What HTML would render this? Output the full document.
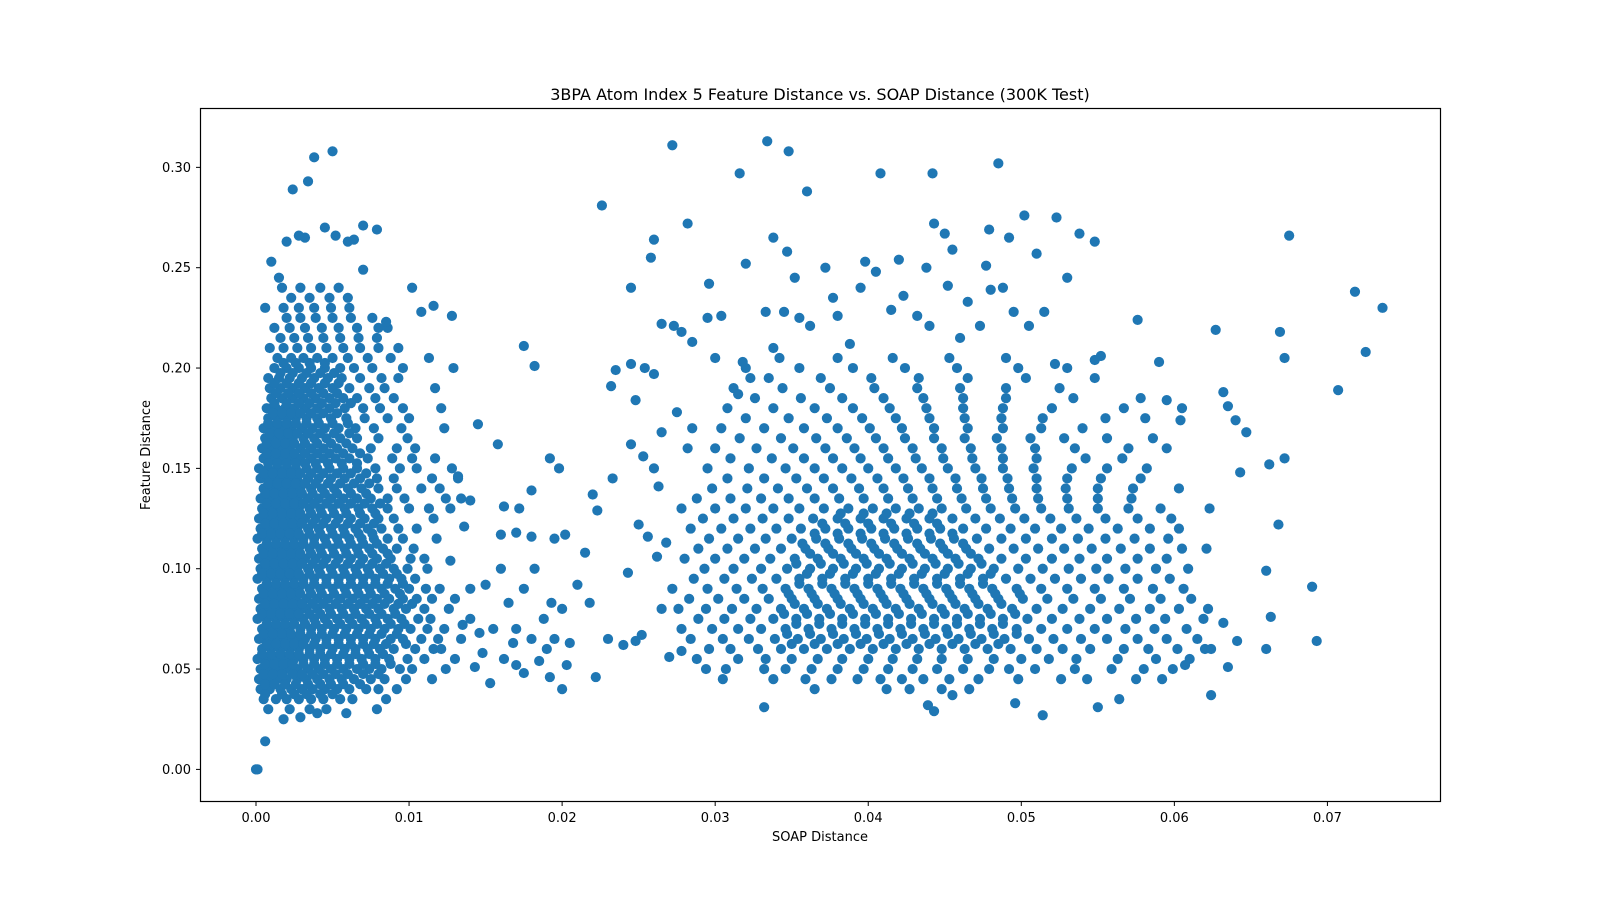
<!DOCTYPE html>
<html><head><meta charset="utf-8"><style>
body{margin:0;background:#fff}
svg{display:block;font-family:"DejaVu Sans","Liberation Sans",sans-serif}
</style></head><body>
<svg id="chart" width="1600" height="900" viewBox="0 0 1600 900">
<rect width="1600" height="900" fill="#fff"/>
<text x="820" y="100" text-anchor="middle" font-size="16">3BPA Atom Index 5 Feature Distance vs. SOAP Distance (300K Test)</text>
<g id="marks"></g>
<g id="axes"></g>
<rect x="200.5" y="108.5" width="1240" height="693" fill="none" stroke="#000" stroke-width="1.2"/>
<text x="820" y="841" text-anchor="middle" font-size="13">SOAP Distance</text>
<text transform="translate(150,455) rotate(-90)" text-anchor="middle" font-size="13">Feature Distance</text>
</svg>
<script>
// SOAP distance values are given in units of 1e-3
const xTicks = [0, 0.01, 0.02, 0.03, 0.04, 0.05, 0.06, 0.07];
const xTickLabels = ["0.00","0.01","0.02","0.03","0.04","0.05","0.06","0.07"];
const yTicks = [0, 0.05, 0.10, 0.15, 0.20, 0.25, 0.30];
const yTickLabels = ["0.00","0.05","0.10","0.15","0.20","0.25","0.30"];
const leftRows = [
[.030,[0.8,2.2,3.5,4.6,7.9]],
[.035,[0.5,1.3,2.0,2.8,3.6,4.4,5.5,6.3,8.5]],
[.040,[0.3,0.9,1.6,2.3,3.0,3.7,4.5,5.3,6.1,7.2,8.0,9.2]],
[.045,[0.2,0.8,1.4,2.0,2.7,3.3,4.0,4.8,5.6,6.4,7.5,8.4,9.8,11.5]],
[.050,[0.3,0.9,1.5,2.1,2.7,3.4,4.1,4.9,5.7,6.6,7.4,8.2,9.4,10.2,12.4]],
[.055,[0.1,0.7,1.3,1.9,2.5,3.1,3.8,4.5,5.3,6.1,6.9,7.8,8.7,9.9,11.0,13.0]],
[.060,[0.4,1.0,1.6,2.2,2.8,3.5,4.2,5.0,5.8,6.5,7.3,8.1,9.0,10.4,11.6,12.1]],
[.065,[0.2,0.8,1.4,2.0,2.6,3.2,3.9,4.6,5.4,6.2,7.0,7.8,8.8,9.6,10.8,11.9,13.4]],
[.070,[0.4,1.0,1.6,2.2,2.9,3.6,4.3,5.1,5.9,6.7,7.5,8.4,9.3,10.1,11.2,12.3]],
[.075,[0.1,0.7,1.3,1.9,2.5,3.1,3.8,4.5,5.3,6.1,6.9,7.8,8.6,9.5,10.6,11.4]],
[.080,[0.3,0.9,1.5,2.1,2.7,3.3,4.0,4.8,5.6,6.4,7.2,8.0,9.0,9.8,11.0,12.6]],
[.085,[0.2,0.8,1.4,2.0,2.6,3.3,4.0,4.7,5.5,6.3,7.1,7.9,8.7,9.6,10.5,11.5]],
[.090,[0.4,1.0,1.6,2.2,2.8,3.5,4.2,5.0,5.8,6.6,7.4,8.2,9.1,10.0,11.1,12.0]],
[.095,[0.1,0.7,1.3,1.9,2.5,3.1,3.8,4.6,5.4,6.2,7.0,7.8,8.7,9.5,10.4]],
[.100,[0.3,0.9,1.5,2.1,2.7,3.4,4.1,4.9,5.7,6.5,7.3,8.1,9.0,9.9,11.2]],
[.105,[0.2,0.8,1.4,2.0,2.6,3.2,3.9,4.6,5.4,6.2,7.0,7.9,8.8,10.1,11.0]],
[.110,[0.4,1.0,1.6,2.2,2.8,3.5,4.2,5.0,5.8,6.6,7.4,8.3,9.2,10.3]],
[.115,[0.1,0.7,1.3,1.9,2.5,3.1,3.8,4.5,5.3,6.1,6.9,7.7,8.6,9.6,11.8]],
[.120,[0.3,0.9,1.5,2.1,2.7,3.4,4.1,4.9,5.7,6.5,7.3,8.2,9.3,10.5]],
[.125,[0.2,0.8,1.4,2.0,2.6,3.2,3.9,4.6,5.4,6.2,7.1,8.0,9.0,11.6]],
[.130,[0.4,1.0,1.6,2.2,2.8,3.5,4.2,5.0,5.8,6.7,7.6,8.6,10.0,11.3,12.7]],
[.135,[0.3,0.9,1.5,2.1,2.7,3.4,4.1,4.9,5.7,6.6,7.5,8.6,9.7,12.4,13.4]],
[.140,[0.5,1.1,1.7,2.3,2.9,3.6,4.3,5.1,6.0,6.9,8.0,9.2,10.8,12.0]],
[.145,[0.3,0.9,1.5,2.1,2.7,3.4,4.1,4.9,5.8,6.8,7.9,9.0,11.5,13.2]],
[.150,[0.2,0.8,1.4,2.0,2.6,3.3,4.0,4.8,5.7,6.6,7.8,9.4,10.5,12.8]],
[.155,[0.5,1.1,1.7,2.3,2.9,3.6,4.4,5.2,6.1,7.3,8.9,10.2,11.7]],
[.160,[0.4,1.0,1.6,2.2,2.9,3.6,4.4,5.3,6.3,7.5,9.2,10.4]],
[.165,[0.6,1.2,1.8,2.4,3.1,3.8,4.6,5.5,6.6,8.0,9.9]],
[.170,[0.5,1.1,1.7,2.3,3.0,3.7,4.5,5.4,6.5,7.7,9.5,12.3]],
[.175,[0.8,1.4,2.0,2.6,3.3,4.0,4.9,5.9,7.1,8.6,10.0]],
[.180,[0.7,1.3,1.9,2.5,3.2,4.0,4.8,5.8,7.0,8.1,9.6,12.1]],
[.185,[1.0,1.7,2.4,3.1,3.9,4.8,5.7,6.6,7.8,9.0]],
[.190,[0.9,1.6,2.4,3.2,4.1,5.0,6.1,7.4,8.4,11.7]],
[.195,[0.8,1.5,2.2,3.0,3.8,4.7,5.6,6.8,8.2,9.3]],
[.200,[1.2,2.0,2.8,3.6,4.5,5.5,6.4,7.6,9.6,12.9]],
[.205,[1.4,2.3,3.1,4.0,5.0,6.0,7.3,8.8,11.3]],
[.210,[0.9,1.8,2.7,3.6,4.6,5.7,6.8,8.0,9.3]],
[.215,[1.6,2.5,3.4,4.4,5.5,6.7,7.9]],
[.220,[1.2,2.2,3.2,4.3,5.4,6.6,8.0,8.6]],
[.225,[2.0,2.9,3.9,5.0,6.2,7.6]],
[.230,[0.6,1.8,2.8,3.8,4.9,6.1]],
[.235,[2.3,3.5,4.8,6.0]],
[.240,[1.7,2.9,4.2,5.4]]
];
const leftFill = [
[.0375,[0.6,1.7,2.5,3.3,4.2,5.0]],
[.0425,[0.6,1.2,1.9,2.6,3.4,4.2,4.9,5.7,6.8]],
[.0475,[0.5,1.1,1.7,2.4,3.0,3.7,4.4,5.2,6.0,7.0,8.0]],
[.0525,[0.6,1.2,1.8,2.4,3.1,3.8,4.5,5.3,6.1,7.0,7.8,8.8]],
[.0575,[0.4,1.0,1.6,2.2,2.8,3.5,4.2,4.9,5.7,6.5,7.4,8.3]],
[.0625,[0.7,1.3,1.9,2.5,3.1,3.8,4.6,5.4,6.2,7.0,7.7,8.5,9.8]],
[.0675,[0.5,1.1,1.7,2.3,2.9,3.6,4.3,5.0,5.8,6.6,7.4,8.2,9.2]],
[.0725,[0.7,1.3,1.9,2.5,3.2,3.9,4.7,5.5,6.3,7.1,7.9,8.8,9.7]],
[.0775,[0.4,1.0,1.6,2.2,2.8,3.5,4.2,4.9,5.7,6.5,7.4,8.2,9.1]],
[.0825,[0.6,1.2,1.8,2.4,3.0,3.7,4.4,5.2,6.0,6.8,7.6,8.4,9.3,10.2]],
[.0875,[0.5,1.1,1.7,2.3,2.9,3.6,4.3,5.1,5.9,6.7,7.5,8.4,9.4]],
[.0925,[0.7,1.3,1.9,2.5,3.1,3.8,4.6,5.4,6.2,7.0,7.8,8.6,9.6]],
[.0975,[0.4,1.0,1.6,2.2,2.8,3.5,4.2,5.0,5.8,6.6,7.4,8.3,9.2]],
[.1025,[0.6,1.2,1.8,2.4,3.0,3.7,4.4,5.2,6.0,6.8,7.6,8.5]],
[.1075,[0.5,1.1,1.7,2.3,2.9,3.6,4.3,5.1,5.9,6.7,7.6,8.6]],
[.1125,[0.7,1.3,1.9,2.5,3.1,3.8,4.6,5.4,6.2,7.0,7.9]],
[.1175,[0.4,1.0,1.6,2.2,2.8,3.5,4.2,5.0,5.8,6.7,7.6]],
[.1225,[0.6,1.2,1.8,2.4,3.0,3.7,4.4,5.2,6.0,6.8,7.7]],
[.1275,[0.5,1.1,1.7,2.3,2.9,3.6,4.3,5.1,5.9,6.8,7.8]],
[.1325,[0.7,1.3,1.9,2.5,3.1,3.8,4.6,5.4,6.2,7.1,8.1]],
[.1375,[0.6,1.2,1.8,2.4,3.0,3.7,4.5,5.3,6.2,7.2]],
[.1425,[0.8,1.4,2.0,2.6,3.2,3.9,4.7,5.5,6.4,7.4]],
[.1475,[0.5,1.1,1.7,2.3,2.9,3.6,4.4,5.3,6.2,7.2]],
[.1525,[0.8,1.4,2.0,2.6,3.2,3.9,4.7,5.6,6.6]],
[.1575,[0.7,1.3,1.9,2.5,3.2,4.0,4.8,5.7,6.8]],
[.1625,[0.7,1.3,1.9,2.5,3.2,4.0,4.9,5.9]],
[.1675,[0.9,1.5,2.1,2.7,3.4,4.2,5.1,6.1]],
[.1725,[0.8,1.4,2.0,2.6,3.3,4.1,5.0,6.0]],
[.1775,[1.1,1.7,2.3,2.9,3.6,4.4,5.3]],
[.1825,[1.2,2.0,2.8,3.5,4.3,5.2,6.2]],
[.1875,[1.3,2.1,2.8,3.6,4.4,5.3]],
[.1925,[1.2,2.0,2.8,3.6,4.5,5.4]],
[.1975,[1.6,2.4,3.3,4.2,5.1]],
[.2025,[1.8,2.6,3.5,4.5]]
];
const rightRows = [
[.040,[36.5,41.2,42.7,44.8,46.6]],
[.045,[30.5,33.8,35.9,37.6,39.3,40.8,42.2,43.6,45.3,47.2,49.8,52.6,54.3,57.5,59.2]],
[.050,[29.4,30.7,33.2,34.6,36.3,38.0,39.7,41.3,42.9,44.5,46.2,47.9,49.2,50.9,53.5,55.9,58.0,59.9]],
[.055,[28.8,31.5,33.3,35.0,36.7,38.3,40.0,41.6,43.2,44.8,46.5,48.2,50.0,51.8,53.6,56.3,58.8,61.0]],
[.060,[29.6,31.0,32.8,34.3,35.8,37.3,38.8,40.3,41.8,43.3,44.8,46.3,47.8,49.3,51.0,52.7,54.5,56.7,58.3,60.2,62.0]],
[.065,[28.4,30.5,32.2,33.9,35.4,36.9,38.4,39.9,41.4,42.9,44.4,45.9,47.4,48.9,50.5,52.1,53.9,55.6,57.6,59.5,61.5]],
[.070,[27.8,29.8,31.5,33.0,34.6,36.1,37.6,39.1,40.6,42.1,43.6,45.1,46.6,48.1,49.7,51.3,53.0,54.8,56.8,58.7,60.8]],
[.075,[28.9,30.6,32.3,33.8,35.3,36.8,38.3,39.8,41.3,42.8,44.3,45.8,47.3,48.8,50.4,52.0,53.8,55.6,57.5,59.4,61.9]],
[.080,[27.6,29.4,31.1,32.7,34.3,35.8,37.3,38.8,40.3,41.8,43.3,44.8,46.3,47.8,49.4,51.0,52.7,54.5,56.4,58.4,60.3,62.2]],
[.085,[28.3,30.2,31.9,33.5,35.0,36.5,38.0,39.5,41.0,42.5,44.0,45.5,47.0,48.5,50.1,51.7,53.4,55.2,57.1,59.1,61.1]],
[.090,[27.2,29.5,31.4,33.1,34.6,36.1,37.6,39.1,40.6,42.1,43.6,45.1,46.6,48.1,49.7,51.3,53.0,54.8,56.7,58.6,60.6]],
[.095,[28.6,30.6,32.4,34.0,35.5,37.0,38.5,40.0,41.5,43.0,44.5,46.0,47.5,49.0,50.6,52.2,53.9,55.7,57.6,59.7]],
[.100,[29.3,31.2,33.0,34.7,36.2,37.7,39.2,40.7,42.2,43.7,45.2,46.7,48.2,49.8,51.4,53.1,54.9,56.8,58.8,60.9]],
[.105,[28.0,30.0,31.9,33.6,35.2,36.7,38.2,39.7,41.2,42.7,44.2,45.7,47.2,48.7,50.3,52.0,53.8,55.6,57.6,59.5]],
[.110,[28.9,30.8,32.6,34.3,35.9,37.4,38.9,40.4,41.9,43.4,44.9,46.4,47.9,49.5,51.1,52.8,54.6,56.5,58.4,60.5,62.1]],
[.115,[29.6,31.5,33.3,35.0,36.6,38.1,39.6,41.1,42.6,44.1,45.6,47.1,48.7,50.3,52.0,53.7,55.5,57.4,59.6]],
[.120,[28.4,30.4,32.3,34.0,35.6,37.2,38.7,40.2,41.7,43.2,44.7,46.2,47.7,49.3,50.9,52.6,54.4,56.3,58.4,60.3]],
[.125,[29.2,31.2,33.1,34.8,36.4,38.0,39.5,41.0,42.5,44.0,45.5,47.0,48.6,50.2,51.9,53.6,55.5,57.6,59.8]],
[.130,[30.0,32.0,33.8,35.5,37.1,38.7,40.3,41.8,43.3,44.8,46.4,48.0,49.6,51.3,53.1,55.0,57.0,59.1,62.3]],
[.135,[28.8,31.0,33.0,34.8,36.5,38.1,39.7,41.3,42.9,44.5,46.1,47.7,49.4,51.1,53.0,55.0,57.2]],
[.140,[29.8,32.1,34.1,36.0,37.7,39.4,41.0,42.6,44.2,45.8,47.5,49.2,51.0,52.9,55.0,57.3,60.3]],
[.145,[30.8,33.2,35.3,37.1,38.9,40.6,42.3,44.0,45.7,47.4,49.1,51.0,53.0,55.2,57.8]],
[.150,[29.5,32.2,34.6,36.5,38.3,40.0,41.8,43.5,45.2,47.0,48.8,50.8,53.3,55.6,58.2]],
[.155,[31.0,33.7,35.8,37.7,39.5,41.3,43.1,44.9,46.8,48.8,51.0,54.2,56.6]],
[.160,[30.0,32.7,35.1,37.2,39.1,41.0,42.9,44.8,46.7,48.7,50.9,53.5,57.0,59.5]],
[.165,[31.6,34.3,36.6,38.6,40.5,42.4,44.3,46.3,48.4,50.6,52.8,55.6,58.6]],
[.170,[30.4,33.2,35.8,38.0,40.1,42.2,44.3,46.5,48.8,51.3,54.0]],
[.175,[32.0,34.8,37.3,39.6,41.8,44.0,46.3,48.7,51.4,55.5,58.1]],
[.180,[30.8,33.8,36.5,39.0,41.4,43.8,46.2,48.8,52.0,56.7,60.5]],
[.185,[32.6,35.6,38.3,41.0,43.6,46.2,49.0,53.4,57.8]],
[.190,[31.2,34.4,37.5,40.4,43.2,46.0,49.0,52.5]],
[.195,[33.5,36.9,40.2,43.3,46.5,50.3,54.8]],
[.200,[32.0,35.5,39.0,42.4,45.8,49.8,53.0]],
[.205,[34.2,38.0,41.6,45.3,49.0]]
];
const rightFill = [
[.0625,[35.0,36.5,38.0,39.5,41.0,42.5,44.0,45.5,47.0,48.5]],
[.0675,[34.7,36.2,37.7,39.2,40.7,42.2,43.7,45.2,46.7,48.2,49.7]],
[.0725,[35.3,36.8,38.3,39.8,41.3,42.8,44.3,45.8,47.3,48.8]],
[.0775,[34.5,36.0,37.5,39.0,40.5,42.0,43.5,45.0,46.5,48.0,49.6]],
[.0825,[35.2,36.7,38.2,39.7,41.2,42.7,44.2,45.7,47.2,48.7]],
[.0875,[34.8,36.3,37.8,39.3,40.8,42.3,43.8,45.3,46.8,48.3,49.9]],
[.0925,[35.5,37.0,38.5,40.0,41.5,43.0,44.5,46.0,47.5]],
[.0975,[36.0,37.5,39.0,40.5,42.0,43.5,45.0,46.5,48.0]],
[.1025,[35.3,36.9,38.4,39.9,41.4,42.9,44.4,45.9,47.4]],
[.1075,[36.2,37.7,39.2,40.7,42.2,43.7,45.2,46.7]],
[.1125,[35.7,37.2,38.7,40.2,41.7,43.2,44.7,46.2]],
[.1175,[36.5,38.0,39.5,41.0,42.5,44.0,45.5]],
[.1225,[37.0,38.5,40.0,41.5,43.0,44.5]],
[.1275,[38.2,39.7,41.2,42.7,44.2]]
];
const leftOutliers = [[0,0],[0.1,0],[0.6,.014],[2.4,.289],[3.4,.293],[3.8,.305],[5.0,.308],[4.5,.270],[5.2,.266],[7.0,.271],[7.9,.269],[1.0,.253],[2.0,.263],[2.8,.266],[3.2,.265],[6.0,.263],[6.4,.264],[7.0,.249],[1.5,.245],[10.2,.240],[11.6,.231],[12.8,.226],[10.8,.228],[8.5,.223],[1.8,.025],[2.9,.026],[4.0,.028],[5.9,.028]];
const midPoints = [[14.5,.172],[15.8,.162],[17.5,.211],[18.2,.201],[19.8,.150],[19.2,.155],[16.2,.131],[17.2,.130],[18,.139],[16,.117],[17,.118],[18,.116],[19.5,.115],[20.2,.117],[21.5,.108],[22,.137],[22.3,.129],[14,.09],[15,.092],[15.5,.07],[16,.10],[16.5,.083],[17,.07],[17.5,.09],[18.2,.1],[18.8,.075],[19.3,.083],[20,.08],[20.5,.063],[21,.092],[21.8,.083],[22.2,.046],[19,.06],[19.5,.065],[20,.04],[18,.065],[17.5,.048],[17,.052],[16.2,.055],[15.3,.043],[14.8,.058],[14.3,.051],[19.2,.046],[20.3,.052],[18.5,.054],[16.8,.063],[14,.075],[13.5,.072],[13,.085],[14.6,.068],[13.2,.146],[14.0,.134],[13.6,.121],[12.7,.104]];
const rightOutliers = [[27.2,.311],[33.4,.313],[34.8,.308],[31.6,.297],[36,.288],[40.8,.297],[44.2,.297],[48.5,.302],[22.6,.281],[28.2,.272],[26,.264],[25.8,.255],[24.5,.240],[32,.252],[33.8,.265],[34.7,.258],[35.2,.245],[37.2,.250],[39.8,.253],[42,.254],[43.8,.250],[44.3,.272],[45,.267],[45.5,.259],[47.9,.269],[49.2,.265],[50.2,.276],[51,.257],[52.3,.275],[53,.245],[53.8,.267],[54.8,.263],[47.7,.251],[46.5,.233],[45.2,.241],[67.5,.266],[71.8,.238],[73.6,.230],[72.5,.208],[70.7,.189],[66.9,.218],[67.2,.205],[62.7,.219],[57.6,.224],[55.2,.206],[54.8,.204],[52.2,.202],[51.5,.228],[50.5,.221],[49.5,.228],[47.3,.221],[63.2,.188],[63.5,.181],[64,.174],[64.7,.168],[60.4,.174],[59,.203],[59.5,.184],[66.2,.152],[67.2,.155],[64.3,.148],[66,.099],[66.8,.122],[66.3,.076],[69,.091],[69.3,.064],[66,.060],[62.4,.037],[63.5,.051],[63.2,.073],[64.1,.064],[62.4,.060],[60.7,.052],[55,.031],[51.4,.027],[44.3,.029],[43.9,.032],[33.2,.031],[45.5,.037],[49.6,.033],[56.4,.035],[23.3,.145],[23.2,.191],[23.5,.199],[24.5,.202],[24.8,.184],[25.4,.200],[26,.197],[26.5,.222],[27.3,.221],[27.8,.218],[28.5,.213],[29.6,.242],[30.4,.226],[29.5,.225],[30,.205],[31.8,.203],[31.5,.187],[32.3,.195],[33.3,.228],[34.5,.228],[33.8,.210],[35.5,.225],[36.2,.221],[37.7,.235],[38,.226],[38.8,.212],[39.5,.240],[40.5,.248],[41.5,.229],[42.3,.236],[43.2,.226],[44,.221],[46,.215],[48,.239],[48.8,.240],[23,.065],[24,.062],[24.8,.064],[25.2,.067],[26.5,.08],[27,.056],[27.8,.059],[24.3,.098],[25,.122],[25.6,.116],[26.2,.106],[26.8,.113],[26.3,.141],[27.8,.13],[24.5,.162],[25.3,.156],[26,.15],[26.5,.168],[27.5,.178],[28.5,.17],[28.2,.16]];

const NS = "http://www.w3.org/2000/svg";
const X0 = 256, XPU = 15306, Y0 = 769.4, YPU = 2006.8;
function xScale(v){ return X0 + v * XPU; }
function yScale(v){ return Y0 - v * YPU; }
const marks = document.getElementById('marks');
function dot(xThousandths, y){
  const c = document.createElementNS(NS, 'circle');
  c.setAttribute('cx', xScale(xThousandths / 1000));
  c.setAttribute('cy', yScale(y));
  c.setAttribute('r', 5.1);
  c.setAttribute('fill', '#1f77b4');
  
  
  marks.appendChild(c);
}
[leftRows, leftFill, rightRows, rightFill].forEach(set => set.forEach(r => r[1].forEach(x => dot(x, r[0]))));
leftOutliers.forEach(p => dot(p[0], p[1]));
midPoints.forEach(p => dot(p[0], p[1]));
rightOutliers.forEach(p => dot(p[0], p[1]));

const axes = document.getElementById('axes');
xTicks.forEach((t, i) => {
  const x = xScale(t);
  const l = document.createElementNS(NS, 'line');
  l.setAttribute('x1', x); l.setAttribute('x2', x);
  l.setAttribute('y1', 802); l.setAttribute('y2', 806);
  l.setAttribute('stroke', '#000');
  
  
  axes.appendChild(l);
  const tx = document.createElementNS(NS, 'text');
  tx.setAttribute('x', x); tx.setAttribute('y', 822);
  tx.setAttribute('text-anchor', 'middle'); tx.setAttribute('font-size', '13');
  tx.textContent = xTickLabels[i];
  
  
  axes.appendChild(tx);
});
yTicks.forEach((t, i) => {
  const y = yScale(t);
  const l = document.createElementNS(NS, 'line');
  l.setAttribute('x1', 196); l.setAttribute('x2', 200);
  l.setAttribute('y1', y); l.setAttribute('y2', y);
  l.setAttribute('stroke', '#000');
  
  
  axes.appendChild(l);
  const tx = document.createElementNS(NS, 'text');
  tx.setAttribute('x', 191); tx.setAttribute('y', y + 4.5);
  tx.setAttribute('text-anchor', 'end'); tx.setAttribute('font-size', '13');
  tx.textContent = yTickLabels[i];
  
  
  axes.appendChild(tx);
});
</script>
</body></html>
